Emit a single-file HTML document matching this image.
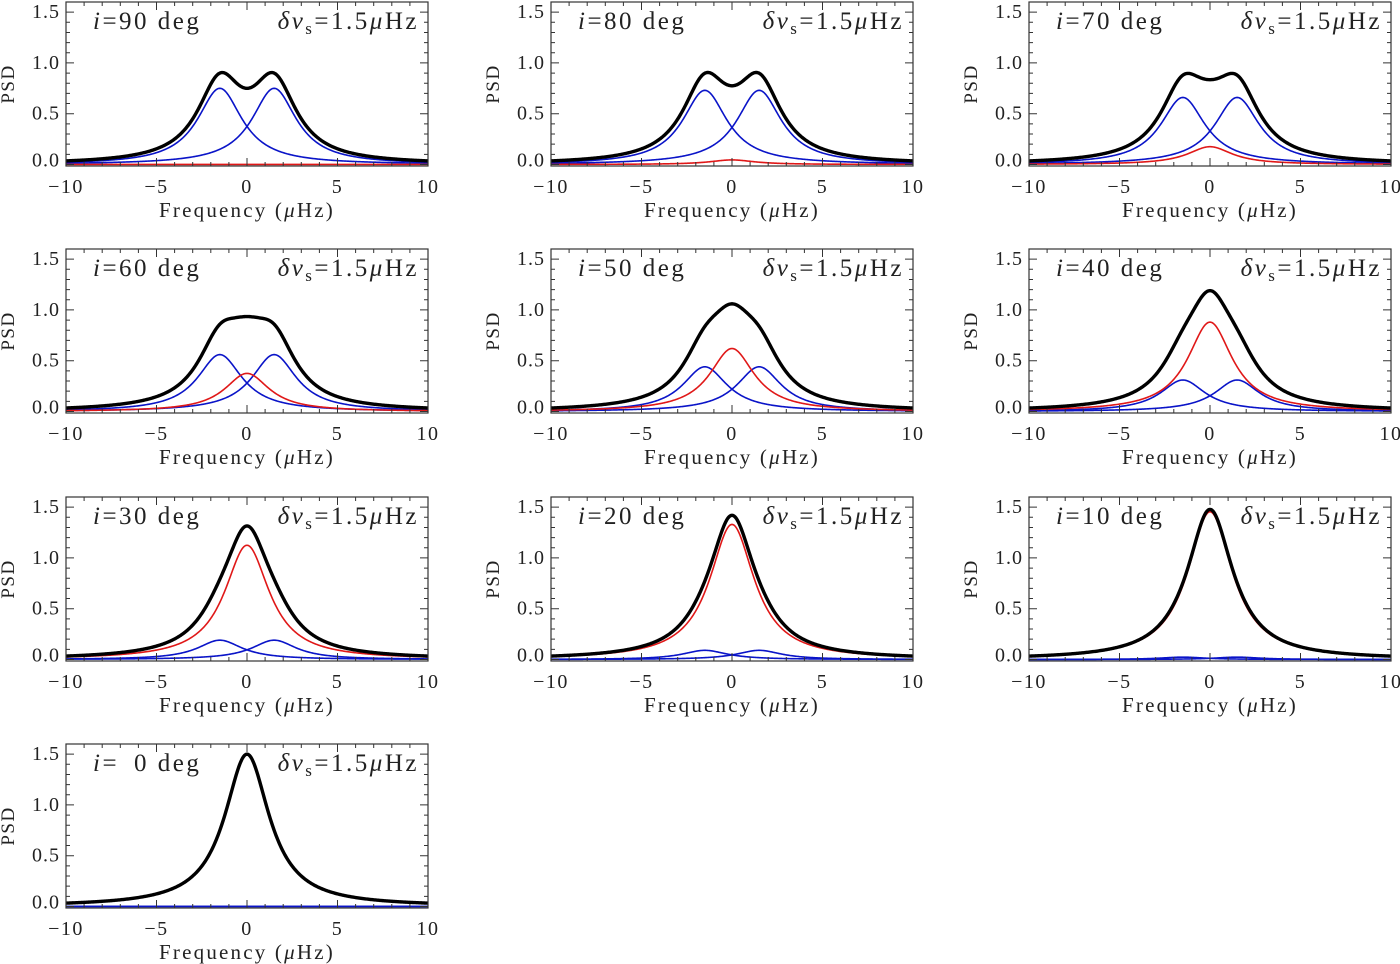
<!DOCTYPE html>
<html><head><meta charset="utf-8">
<style>
body{margin:0;background:#fff;}
svg{display:block;font-family:"Liberation Serif",serif;}
</style></head>
<body>
<svg id="fig" width="1400" height="964" viewBox="0 0 1400 964" xmlns="http://www.w3.org/2000/svg"></svg>
<script>
// Panel data
const inclinations = [90, 80, 70, 60, 50, 40, 30, 20, 10, 0];
const heightM0 = [0.00, 0.045, 0.175, 0.375, 0.62, 0.88, 1.125, 1.33, 1.455, 1.5];
const heightM1 = [0.75, 0.73, 0.66, 0.56, 0.44, 0.31, 0.19, 0.09, 0.023, 0.0];
const splitting = 1.5;
const linewidth = 1.5;
const xTicks = [-10, -5, 0, 5, 10];
const xTickLabels = ["\u221210", "\u22125", "0", "5", "10"];
const yTicks = [0, 0.5, 1.0, 1.5];
const yTickLabels = ["0.0", "0.5", "1.0", "1.5"];

const NS = "http://www.w3.org/2000/svg";
const svg = document.getElementById('fig');
const colX = [66, 551, 1029];
const rowY = [2, 249, 497, 744];
const W = 362, H = 164;
const xmin = -10, xmax = 10, ymin = -0.015, ymax = 1.6;

function mk(tag, attrs, parent) {
  const e = document.createElementNS(NS, tag);
  for (const k in attrs) e.setAttribute(k, attrs[k]);
  (parent || svg).appendChild(e);
  return e;
}
function lor(x, h, c) { return h / (1 + Math.pow((x - c) / linewidth, 2)); }

inclinations.forEach((inc, idx) => {
  const r = Math.floor(idx / 3), c = idx % 3;
  const x0 = colX[c], y0 = rowY[r];
  const sx = v => x0 + (v - xmin) / (xmax - xmin) * W;
  const sy = v => y0 + H - (v - ymin) / (ymax - ymin) * H;
  const g = mk('g', {});
  
  

  const series = [
    {name: 'm-minus1-curve', col: '#0a14c8', w: 1.6, f: x => lor(x, heightM1[idx], -splitting)},
    {name: 'm-plus1-curve', col: '#0a14c8', w: 1.6, f: x => lor(x, heightM1[idx], splitting)},
    {name: 'm0-curve', col: '#e01818', w: 1.6, f: x => lor(x, heightM0[idx], 0)},
    {name: 'total-curve', col: '#000', w: 3.4, f: x => lor(x, heightM1[idx], -splitting) + lor(x, heightM1[idx], splitting) + lor(x, heightM0[idx], 0)}
  ];
  series.forEach(s => {
    let d = '';
    for (let i = 0; i <= 400; i++) {
      const x = xmin + (xmax - xmin) * i / 400;
      d += (i ? 'L' : 'M') + sx(x).toFixed(2) + ' ' + sy(s.f(x)).toFixed(2);
    }
    const p = mk('path', {d: d, fill: 'none', stroke: s.col, 'stroke-width': s.w, 'stroke-linejoin': 'round'}, g);
    
    
  });

  const fr = mk('rect', {x: x0, y: y0, width: W, height: H, fill: 'none', stroke: '#333', 'stroke-width': 1.2}, g);
  
  

  let td = '';
  for (let v = -10; v <= 10; v++) {
    const L = (v % 5 === 0) ? 8 : 4;
    const X = sx(v);
    td += `M${X} ${y0 + H}v${-L}M${X} ${y0}v${L}`;
  }
  for (let k = 0; k <= 16; k++) {
    const v = k / 10;
    const L = (k % 5 === 0) ? 8 : 4;
    const Y = sy(v);
    td += `M${x0} ${Y}h${L}M${x0 + W} ${Y}h${-L}`;
  }
  const tp = mk('path', {d: td, stroke: '#333', 'stroke-width': 1, fill: 'none'}, g);
  
  

  xTicks.forEach((v, i) => {
    const t = mk('text', {x: sx(v), y: y0 + 191, 'font-size': 20, 'text-anchor': 'middle', fill: '#222', 'letter-spacing': '1.5'}, g);
    t.textContent = xTickLabels[i];
    
    
  });
  yTicks.forEach((v, i) => {
    const t = mk('text', {x: x0 - 6, y: sy(v) + 6 - (v === 0 ? 4 : 0), 'font-size': 20, 'text-anchor': 'end', fill: '#222', 'letter-spacing': '1'}, g);
    t.textContent = yTickLabels[i];
    
    
  });
  const xl = mk('text', {x: x0 + W / 2, y: y0 + 215, 'font-size': 21, 'text-anchor': 'middle', fill: '#222', 'letter-spacing': '2.2'}, g);
  xl.innerHTML = 'Frequency (<tspan font-style="italic">\u03bc</tspan>Hz)';
  
  
  const yl = mk('text', {x: 0, y: 0, 'font-size': 19, 'text-anchor': 'middle', fill: '#222', 'letter-spacing': '1.5', transform: `translate(${x0 - 52},${y0 + 82}) rotate(-90)`}, g);
  yl.textContent = 'PSD';
  
  

  const t1 = mk('text', {x: x0 + 27, y: y0 + 27, 'font-size': 25, fill: '#222', 'letter-spacing': '2.5'}, g);
  t1.setAttribute('xml:space', 'preserve');
  t1.innerHTML = '<tspan font-style="italic">i</tspan>=' + (inc < 10 ? '\u2002' : '') + inc + ' deg';
  
  
  const t2 = mk('text', {x: x0 + W - 9, y: y0 + 27, 'font-size': 25, 'text-anchor': 'end', fill: '#222', 'letter-spacing': '2.5'}, g);
  t2.innerHTML = '<tspan font-style="italic">\u03b4\u03bd</tspan><tspan font-size="17" dy="5">s</tspan><tspan dy="-5">=1.5</tspan><tspan font-style="italic">\u03bc</tspan>Hz';
  
  
});
</script>
</body></html>
